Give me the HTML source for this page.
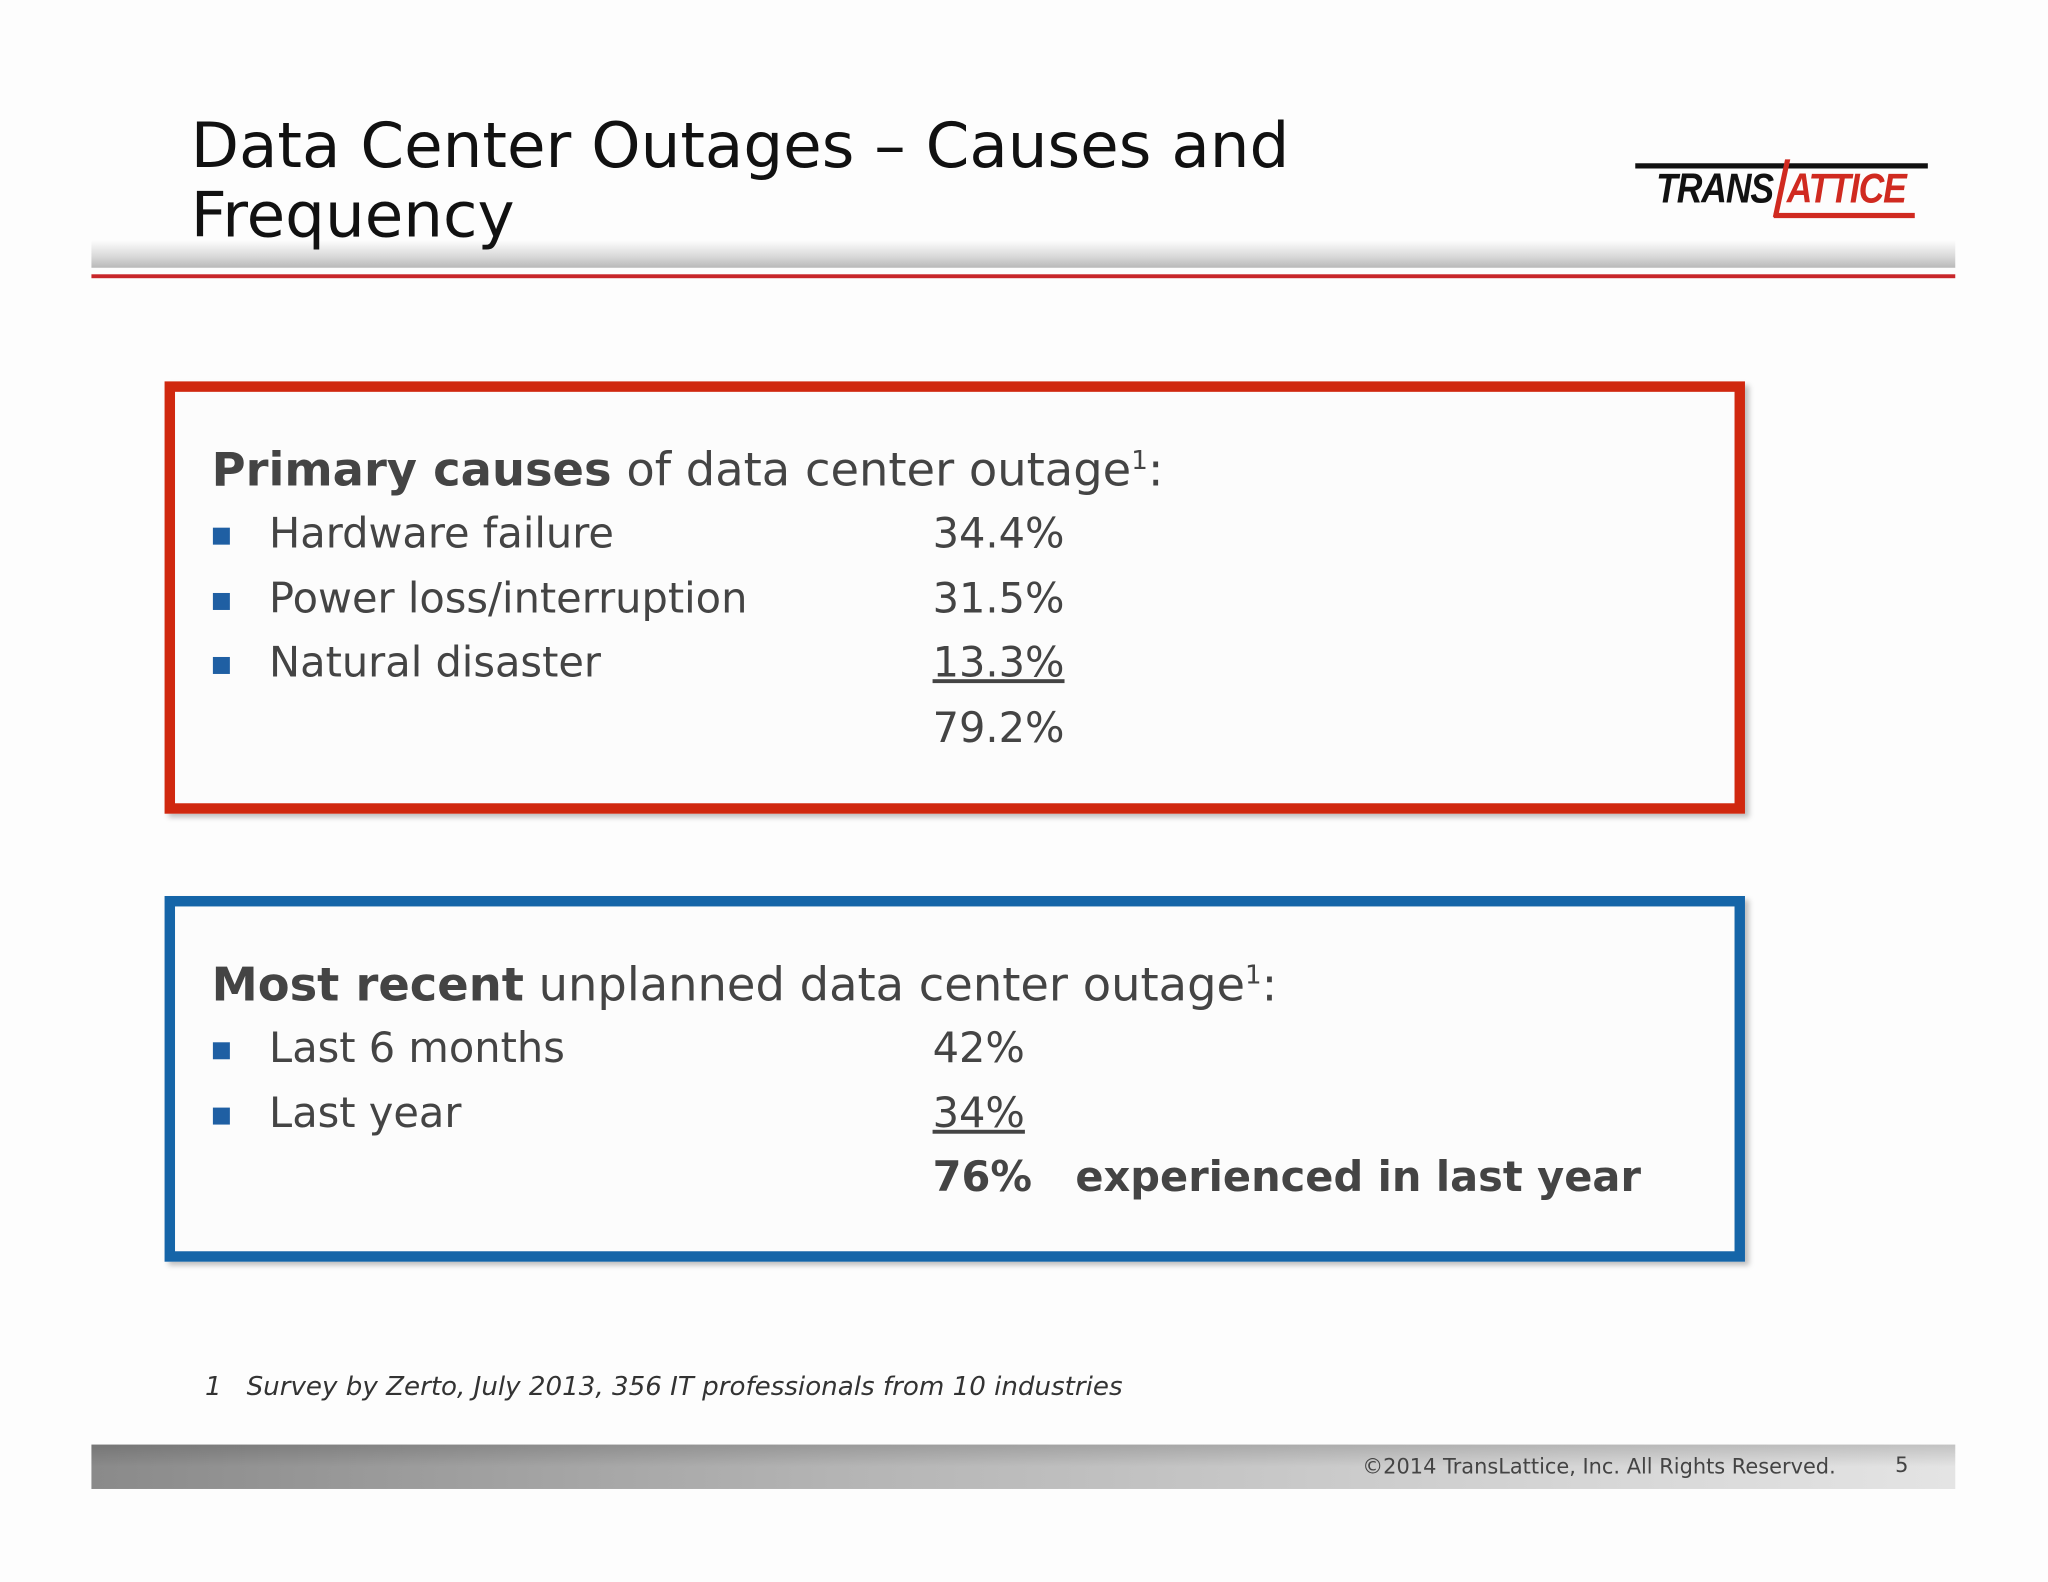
<!DOCTYPE html>
<html><head><meta charset="utf-8"><style>
html,body{margin:0;padding:0;background:#fdfdfd;}
#root{width:1568px;height:1211px;transform:scale(1.306122);transform-origin:0 0;position:relative;font-family:"DejaVu Sans","Liberation Sans",sans-serif;color:#444;}
.abs{position:absolute;white-space:nowrap;}
.box{position:absolute;box-sizing:border-box;background:#fcfcfc;box-shadow:3px 3px 4px rgba(0,0,0,0.25);}
.bul{position:absolute;width:13px;height:13px;background:#1f5fa3;}
.t{font-size:31.8px;line-height:36px;}
</style></head><body>
<div id="root">
 <div class="abs" style="left:70px;top:184px;width:1427px;height:21px;background:linear-gradient(#fdfdfd,#d8d8d8 60%,#b8b8b8);"></div>
 <div class="abs" style="left:70px;top:210px;width:1427px;height:3px;background:#c8262a;"></div>
 <div class="abs" style="left:146px;top:86px;font-size:48px;line-height:53px;color:#111;z-index:2;">Data Center Outages – Causes and<br>Frequency</div>
 <div class="abs" style="left:1252px;top:122px;width:226px;height:48px;">
  <div style="position:absolute;left:0;top:3px;width:224px;height:4px;background:#111;"></div>
  <div style="position:absolute;left:16px;top:4px;font-size:32px;font-weight:bold;font-style:italic;color:#111;font-family:'Liberation Sans',sans-serif;letter-spacing:-1px;transform:scaleX(0.85);transform-origin:0 0;">TRANS</div>
  <div style="position:absolute;left:110px;top:0;width:4px;height:44px;background:#d02a20;transform:skewX(-12deg);"></div>
  <div style="position:absolute;left:106px;top:41px;width:108px;height:4px;background:#d02a20;"></div>
  <div style="position:absolute;left:116px;top:4px;font-size:32px;font-weight:bold;font-style:italic;color:#d02a20;font-family:'Liberation Sans',sans-serif;letter-spacing:-1px;transform:scaleX(0.85);transform-origin:0 0;">ATTICE</div>
 </div>

 <div class="box" style="left:126px;top:292px;width:1210px;height:331px;border:8px solid #d0280f;"></div>
 <div class="abs" style="left:162px;top:331px;font-size:35.5px;line-height:42px;"><b>Primary causes</b> of data center outage<sup style="font-size:20px">1</sup>:</div>
 <div class="bul" style="left:163px;top:404px;"></div>
 <div class="abs t" style="left:206px;top:391px;">Hardware failure</div>
 <div class="abs t" style="left:714px;top:391px;">34.4%</div>
 <div class="bul" style="left:163px;top:454px;"></div>
 <div class="abs t" style="left:206px;top:441px;">Power loss/interruption</div>
 <div class="abs t" style="left:714px;top:441px;">31.5%</div>
 <div class="bul" style="left:163px;top:503px;"></div>
 <div class="abs t" style="left:206px;top:490px;">Natural disaster</div>
 <div class="abs t" style="left:714px;top:490px;text-decoration:underline;">13.3%</div>
 <div class="abs t" style="left:714px;top:540px;">79.2%</div>

 <div class="box" style="left:126px;top:686px;width:1210px;height:280px;border:8px solid #1565a8;"></div>
 <div class="abs" style="left:162px;top:725px;font-size:35.5px;line-height:42px;"><b>Most recent</b> unplanned data center outage<sup style="font-size:20px">1</sup>:</div>
 <div class="bul" style="left:163px;top:798px;"></div>
 <div class="abs t" style="left:206px;top:785px;">Last 6 months</div>
 <div class="abs t" style="left:714px;top:785px;">42%</div>
 <div class="bul" style="left:163px;top:848px;"></div>
 <div class="abs t" style="left:206px;top:835px;">Last year</div>
 <div class="abs t" style="left:714px;top:835px;text-decoration:underline;">34%</div>
 <div class="abs t" style="left:714px;top:884px;font-weight:bold;">76%&nbsp;&nbsp;&nbsp;experienced in last year</div>

 <div class="abs" style="left:157px;top:1049px;font-size:20px;font-style:italic;color:#333;">1&nbsp;&nbsp;&nbsp;Survey by Zerto, July 2013, 356 IT professionals from 10 industries</div>
 <div class="abs" style="left:70px;top:1106px;width:1427px;height:34px;background:linear-gradient(to right,#8a8a8a,#b4b4b4 40%,#d6d6d6 80%,#e4e4e4);"><div style="height:100%;background:linear-gradient(rgba(0,0,0,0.15),rgba(255,255,255,0) 50%);"></div></div>
 <div class="abs" style="left:1043px;top:1113px;font-size:16px;color:#444;">©2014 TransLattice, Inc. All Rights Reserved.</div>
 <div class="abs" style="left:1451px;top:1112px;font-size:16px;color:#444;">5</div>
</div>
</body></html>
